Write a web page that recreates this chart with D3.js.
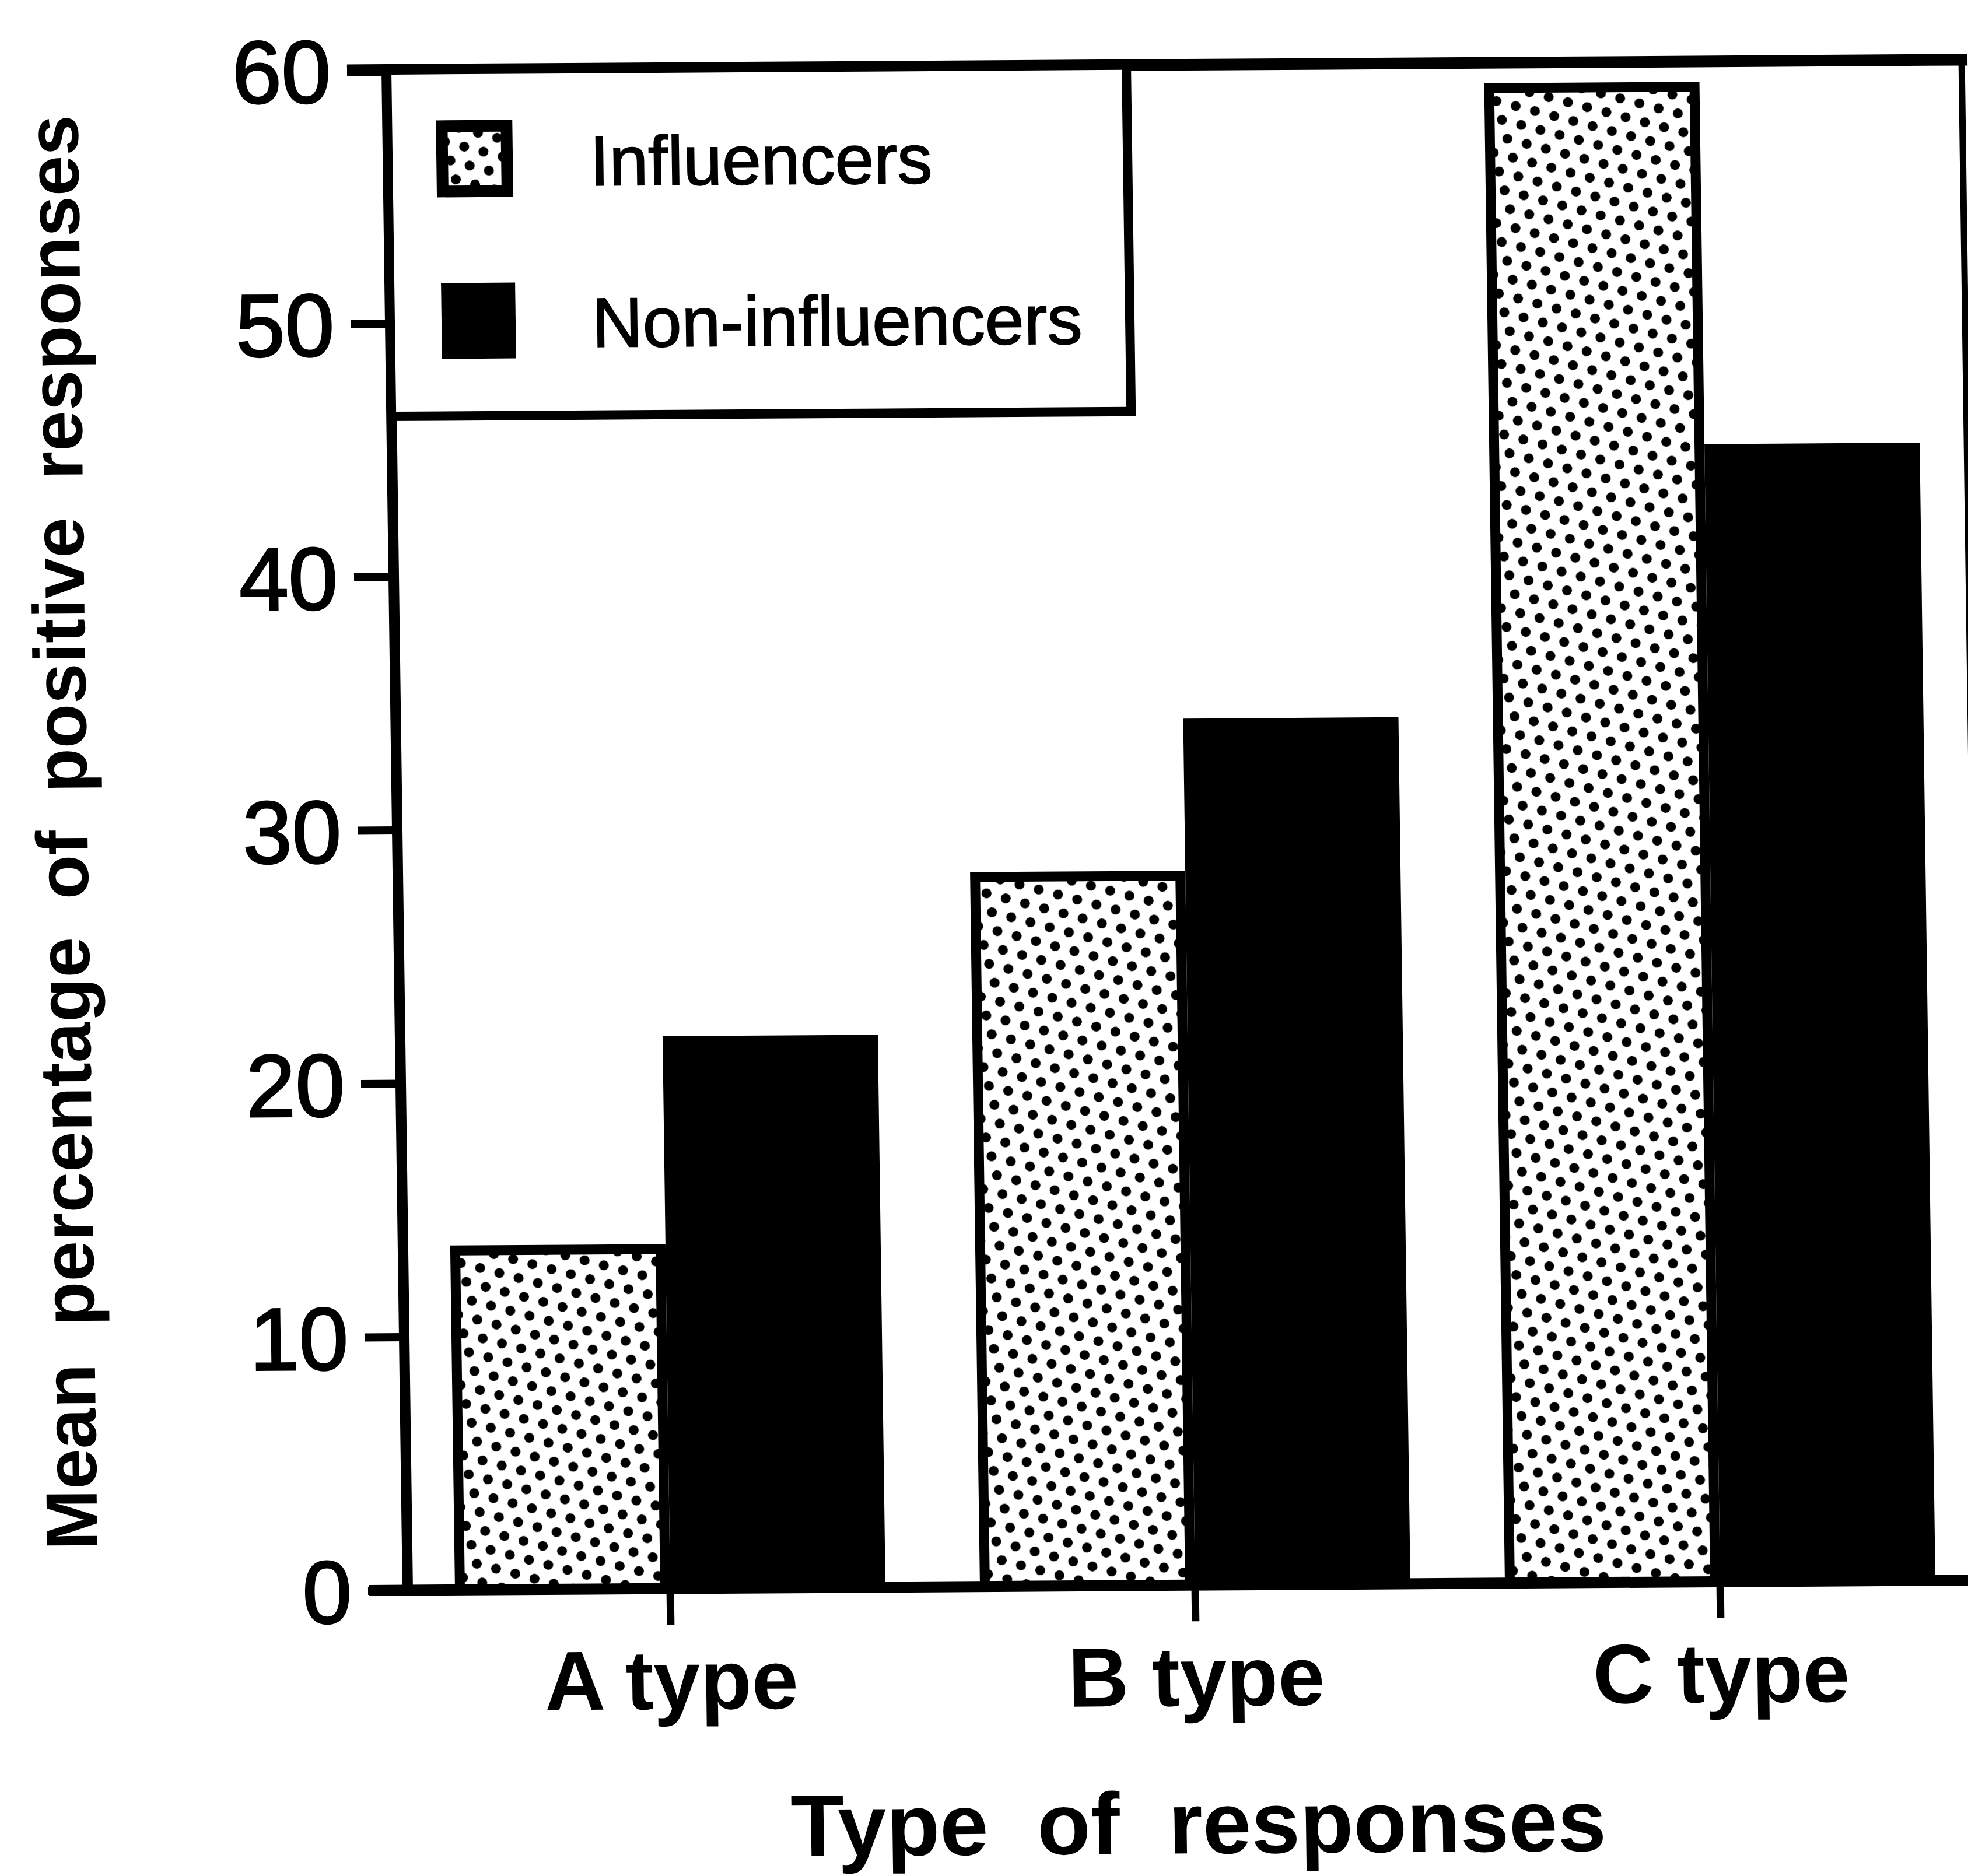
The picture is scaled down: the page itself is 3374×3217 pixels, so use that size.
<!DOCTYPE html>
<html>
<head>
<meta charset="utf-8">
<script src="https://cdn.jsdelivr.net/npm/d3@7"></script>
<style>
  body { margin: 0; background: #fff; }
  svg { display: block; }
</style>
</head>
<body>
<div id="chart"></div>
<script>
const categories = ['A type', 'B type', 'C type'];
const seriesNames = ['Influencers', 'Non-influencers'];
const influencers = [13.4, 28.0, 59.0];
const nonInfluencers = [21.8, 34.2, 44.9];
const yTicks = [0, 10, 20, 30, 40, 50, 60];

const W = 3374, H = 3217;
const M = { left: 699, top: 120, right: 3399, bottom: 2727 };
const FONT = '"Liberation Sans", Arial, Helvetica, sans-serif';
// the scanned figure is a little skewed, so the whole chart hangs off this matrix
const SKEW = 'matrix(1,-0.0065,0.0138,1,0,0)';

const svg = d3.select('#chart').append('svg')
    .attr('width', W)
    .attr('height', H)
    .attr('xmlns', 'http://www.w3.org/2000/svg');

svg.append('rect').attr('width', W).attr('height', H).attr('fill', '#fff');

// stipple used for the influencers bars
const defs = svg.append('defs');
const dotW = 34, dotH = 58;
const pat = defs.append('pattern')
    .attr('id', 'dots')
    .attr('patternUnits', 'userSpaceOnUse')
    .attr('width', dotW)
    .attr('height', dotH)
    .attr('patternTransform', 'rotate(15)');
pat.append('rect').attr('width', dotW).attr('height', dotH).attr('fill', '#fff');
[[0, 0], [dotW, 0], [0, dotH], [dotW, dotH], [dotW / 2, dotH / 2]].forEach(function (p) {
    pat.append('circle').attr('cx', p[0]).attr('cy', p[1]).attr('r', 8.5).attr('fill', '#000');
});

const g = svg.append('g')
    .attr('transform', 'translate(' + M.left + ',' + M.bottom + ') ' + SKEW + ' translate(' + (-M.left) + ',' + (-M.bottom) + ')');

const x0 = d3.scaleBand()
    .domain(categories)
    .range([M.left, M.right])
    .paddingInner(0.18)
    .paddingOuter(0.09);

const x1 = d3.scaleBand()
    .domain(seriesNames)
    .range([0, x0.bandwidth()]);

const y = d3.scaleLinear()
    .domain([0, 60])
    .range([M.bottom, M.top]);

const rows = categories.map(function (c, i) {
    return { cat: c, values: [
        { key: seriesNames[0], v: influencers[i] },
        { key: seriesNames[1], v: nonInfluencers[i] }
    ] };
});

// bars
const SW = 17;
const groups = g.selectAll('g.group')
    .data(rows)
    .enter().append('g')
    .attr('class', 'group')
    .attr('transform', function (d) { return 'translate(' + x0(d.cat) + ',0)'; });

groups.append('rect')
    .attr('x', function (d) { return x1(seriesNames[0]) + SW / 2; })
    .attr('width', x1.bandwidth() - SW)
    .attr('y', function (d) { return y(d.values[0].v); })
    .attr('height', function (d) { return y(0) - y(d.values[0].v); })
    .attr('fill', 'url(#dots)')
    .attr('stroke', '#000')
    .attr('stroke-width', SW);

groups.append('rect')
    .attr('x', function (d) { return x1(seriesNames[1]); })
    .attr('width', x1.bandwidth())
    .attr('y', function (d) { return y(d.values[1].v); })
    .attr('height', function (d) { return y(0) - y(d.values[1].v); })
    .attr('fill', '#000');

// frame
g.append('line')
    .attr('x1', M.left - 68).attr('x2', M.right + 10)
    .attr('y1', M.top).attr('y2', M.top)
    .attr('stroke', '#000').attr('stroke-width', 20);
g.append('line')
    .attr('x1', M.right).attr('x2', M.right)
    .attr('y1', M.top).attr('y2', M.bottom)
    .attr('stroke', '#000').attr('stroke-width', 11);
g.append('line')
    .attr('x1', M.left).attr('x2', M.left)
    .attr('y1', M.top).attr('y2', M.bottom)
    .attr('stroke', '#000').attr('stroke-width', 18);
g.append('line')
    .attr('x1', M.left - 66).attr('x2', M.right + 40)
    .attr('y1', M.bottom).attr('y2', M.bottom)
    .attr('stroke', '#000').attr('stroke-width', 19);

// y axis
const yAxis = d3.axisLeft(y).tickValues(yTicks).tickSize(68).tickPadding(28);
g.append('g')
    .attr('transform', 'translate(' + M.left + ',0)')
    .call(yAxis)
    .attr('font-family', FONT)
    .attr('font-size', 152)
    .call(function (a) { a.select('.domain').remove(); })
    .call(function (a) { a.selectAll('.tick line').attr('stroke', '#000').attr('stroke-width', 14); })
    .call(function (a) {
        a.selectAll('.tick text')
            .attr('fill', '#000')
            .attr('stroke', '#000')
            .attr('stroke-width', 3)
            .attr('dy', '0.36em');
    });

// x axis
const xAxis = d3.axisBottom(x0).tickSize(62).tickPadding(0);
g.append('g')
    .attr('transform', 'translate(0,' + M.bottom + ')')
    .call(xAxis)
    .attr('font-family', FONT)
    .attr('font-size', 144)
    .attr('font-weight', 'bold')
    .call(function (a) { a.select('.domain').remove(); })
    .call(function (a) { a.selectAll('.tick line').attr('stroke', '#000').attr('stroke-width', 13); })
    .call(function (a) {
        a.selectAll('.tick text')
            .attr('fill', '#000')
            .attr('y', 207)
            .attr('dy', null);
    });

// axis titles
g.append('text')
    .attr('x', x0(categories[1]) + x0.bandwidth() / 2)
    .attr('y', 3187)
    .attr('text-anchor', 'middle')
    .attr('font-family', FONT)
    .attr('font-size', 150)
    .attr('font-weight', 'bold')
    .attr('word-spacing', 42)
    .text('Type of responses');

g.append('text')
    .attr('transform', 'translate(168,1424) rotate(-90)')
    .attr('text-anchor', 'middle')
    .attr('font-family', FONT)
    .attr('font-size', 125)
    .attr('font-weight', 'bold')
    .attr('word-spacing', 30)
    .text('Mean percentage of positive responses');

// legend
const legend = g.append('g');
legend.append('rect')
    .attr('x', M.left).attr('y', M.top)
    .attr('width', 1268).attr('height', 594)
    .attr('fill', '#fff')
    .attr('stroke', '#000')
    .attr('stroke-width', 16);

const legendRows = [
    { name: seriesNames[0], sx: 792, sy: 217, sw: 111, sh: 112, fill: 'url(#dots)', stroke: 20, ty: 320 },
    { name: seriesNames[1], sx: 787, sy: 486, sw: 127, sh: 130, fill: '#000', stroke: 0, ty: 597 }
];
legendRows.forEach(function (d) {
    legend.append('rect')
        .attr('x', d.sx).attr('y', d.sy)
        .attr('width', d.sw).attr('height', d.sh)
        .attr('fill', d.fill)
        .attr('stroke', d.stroke ? '#000' : 'none')
        .attr('stroke-width', d.stroke);
    legend.append('text')
        .attr('x', 1045).attr('y', d.ty)
        .attr('font-family', FONT)
        .attr('font-size', 120)
        .attr('stroke', '#000')
        .attr('stroke-width', 2)
        .text(d.name);
});
</script>
</body>
</html>
